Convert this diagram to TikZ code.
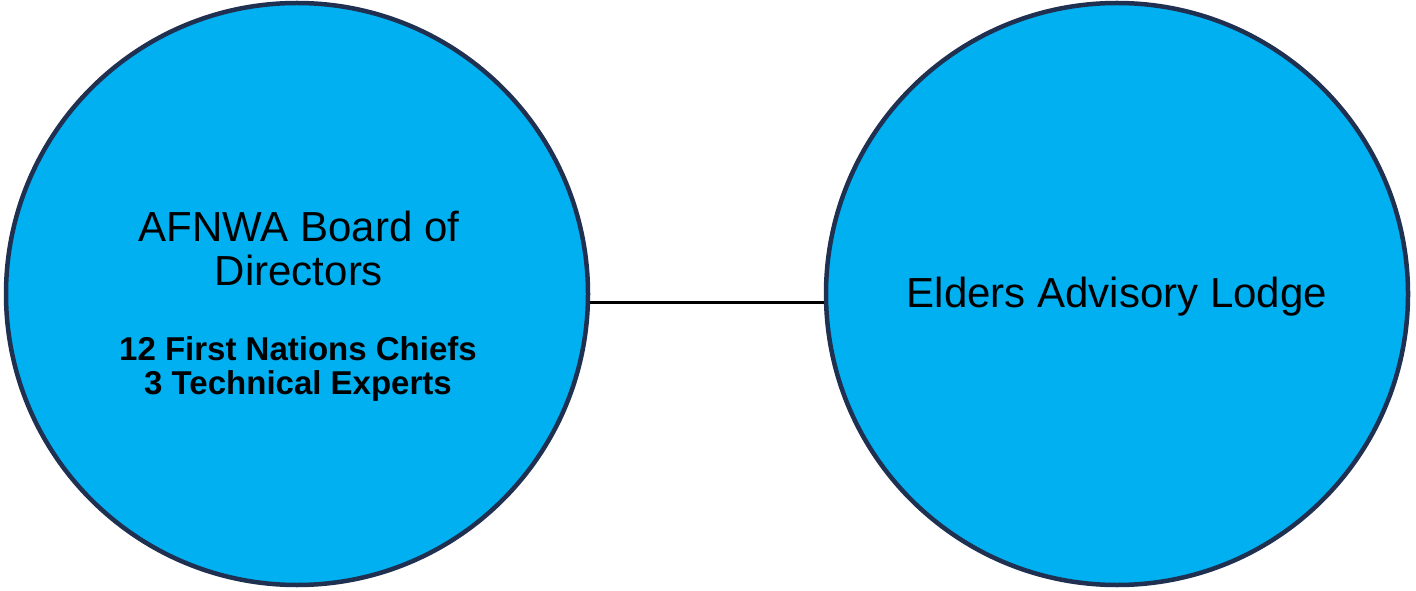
\documentclass[tikz,border=0pt]{standalone}
\usepackage{fontspec}
\setmainfont{Liberation Sans}
\definecolor{cfill}{HTML}{00B0F0}
\definecolor{cline}{HTML}{1F3050}
\begin{document}
\begin{tikzpicture}[x=1pt,y=1pt,
  circ/.style={circle,draw=cline,fill=cfill,line width=4.5pt,minimum size=582pt,inner sep=0pt,align=center}]
\useasboundingbox[fill=white] (0,0) rectangle (1416,590);
\node[circ] (a) at (297,296) {};
\node[circ] (b) at (1117,296) {};
\node[align=center,font=\fontsize{42}{44}\selectfont] (t1) at (299,342) {AFNWA Board of\\Directors};
\node[align=center,font=\fontsize{33}{34}\selectfont\bfseries] (t2) at (298,221) {12 First Nations Chiefs\\3 Technical Experts};
\node[font=\fontsize{42}{44}\selectfont] (t3) at (1117,293) {Elders Advisory Lodge};
\draw[line width=3pt] (a.east |- 0,288) -- (b.west |- 0,288);
\end{tikzpicture}
\end{document}
